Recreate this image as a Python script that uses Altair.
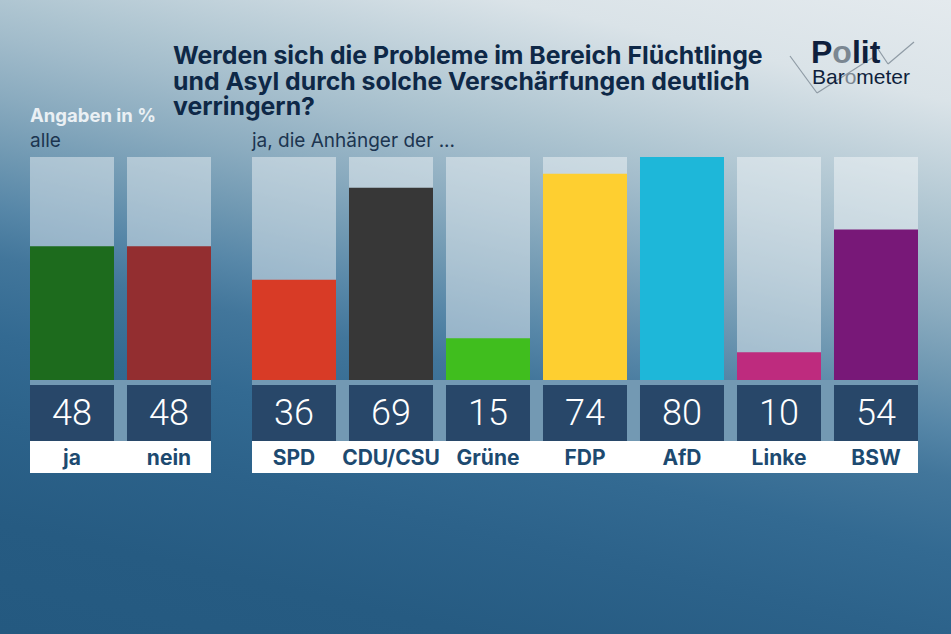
import altair as alt
import pandas as pd

# ---- data ----
all_cats = ["ja", "nein"]
all_vals = [48, 48]
party_cats = ["SPD", "CDU/CSU", "Grüne", "FDP", "AfD", "Linke", "BSW"]
party_vals = [36, 69, 15, 74, 80, 10, 54]
all_colors = ["#1d6b1d", "#932e30"]
party_colors = ["#d83b26", "#373737", "#40be1e", "#fecf30", "#1eb7d9", "#be2b7e", "#781878"]

title_lines = [
    "Werden sich die Probleme im Bereich Flüchtlinge",
    "und Asyl durch solche Verschärfungen deutlich",
    "verringern?",
]
unit_label = "Angaben in %"
left_head = "alle"
right_head = "ja, die Anhänger der ..."

W, H = 951, 634
ymax = max(all_vals + party_vals)
one = pd.DataFrame({"a": [0]})

yscale = alt.Scale(domain=[0, ymax], range=[380, 157], nice=False)
cscale = alt.Scale(domain=all_cats + party_cats, range=all_colors + party_colors)

# ---- background ----
stops = [
    (0.0, "#e4eaee"), (0.12, "#dae3e8"), (0.26, "#aec5d1"), (0.30, "#a2bccb"),
    (0.37, "#8aabbf"), (0.44, "#6f98b2"), (0.50, "#5787a8"), (0.56, "#42769b"),
    (0.65, "#336a92"), (0.75, "#2c628a"), (0.87, "#265b82"), (1.0, "#245980"),
]
grad = alt.LinearGradient(
    gradient="linear", x1=1, y1=0, x2=0.584, y2=1.202,
    stops=[alt.GradientStop(offset=o, color=c) for o, c in stops],
)
bg = alt.Chart(one).mark_rect(color=grad).encode(
    x=alt.value(0), x2=alt.value(W), y=alt.value(0), y2=alt.value(H)
)


def group(cats, vals, x0, x1):
    df = pd.DataFrame({"cat": cats, "val": vals, "full": [ymax] * len(cats)})
    xs = alt.X("cat:N", sort=cats, axis=None,
               scale=alt.Scale(domain=cats, range=[x0, x1], paddingInner=0.134, paddingOuter=0))
    base = alt.Chart(df)
    strip = alt.Chart(one).mark_rect(color="#7399b3").encode(
        x=alt.value(x0), x2=alt.value(x1), y=alt.value(380), y2=alt.value(441))
    track = base.mark_bar(color="white", opacity=0.42).encode(
        x=xs, y=alt.Y("full:Q", scale=yscale, axis=None))
    bars = base.mark_bar().encode(
        x=xs, y=alt.Y("val:Q", scale=yscale, axis=None),
        color=alt.Color("cat:N", scale=cscale, legend=None))
    box = base.mark_rect(color="#284769").encode(x=xs, y=alt.value(385), y2=alt.value(441))
    num = base.mark_text(font="Roboto", fontWeight=300, fontSize=36, color="white",
                         baseline="middle").encode(x=xs, y=alt.value(414), text="val:Q")
    labbox = alt.Chart(one).mark_rect(color="white").encode(
        x=alt.value(x0), x2=alt.value(x1), y=alt.value(441), y2=alt.value(473))
    lab = base.mark_text(font="Inter", fontWeight="bold", fontSize=21, color="#1d4a70",
                         baseline="middle").encode(x=xs, y=alt.value(459), text="cat:N")
    return alt.layer(strip, track, bars, box, num, labbox, lab)


left = group(all_cats, all_vals, 30, 211)
right = group(party_cats, party_vals, 252, 918)


def txt(s, x, y, **kw):
    return alt.Chart(one).mark_text(align="left", baseline="alphabetic", **kw).encode(
        x=alt.value(x), y=alt.value(y), text=alt.value(s))


title = txt(title_lines, 173, 64, font="Inter", fontWeight="bold", fontSize=24.8,
            color="#0e2847", lineHeight=25.5)
unit = txt(unit_label, 30, 122, font="Inter", fontWeight="bold", fontSize=18.5, color="#eaf0f4")
lh = txt(left_head, 30, 147, font="Inter", fontSize=19, color="#1c3550")
rh = txt(right_head, 252, 147, font="Inter", fontSize=19, color="#1c3550")

# ---- logo ----
lc = "#8f9ba5"


def seg(xa, ya, xb, yb):
    return alt.Chart(one).mark_rule(color=lc, strokeWidth=1.2).encode(
        x=alt.value(xa), y=alt.value(ya), x2=alt.value(xb), y2=alt.value(yb))


logo_lines = [seg(790, 56, 817, 93), seg(817, 93, 872, 58), seg(876, 46, 888, 64), seg(888, 64, 914, 42)]
dark = "#0f1f3c"
gray = "#7b8792"
lf = "Liberation Sans"
p1 = txt("P", 811, 63, font=lf, fontWeight="bold", fontSize=32, color=dark)
p2 = txt("o", 811 + 0.667 * 32, 63, font=lf, fontWeight="bold", fontSize=32, color=gray)
p3 = txt("lit", 811 + (0.667 + 0.611) * 32, 63, font=lf, fontWeight="bold", fontSize=32, color=dark)
b1 = txt("Bar", 812, 84, font=lf, fontSize=21, color=dark)
b2 = txt("o", 812 + 1.556 * 21, 84, font=lf, fontSize=21, color=gray)
b3 = txt("meter", 812 + 2.112 * 21, 84, font=lf, fontSize=21, color=dark)

chart = alt.layer(
    bg, left, right, title, unit, lh, rh, *logo_lines, p1, p2, p3, b1, b2, b3
).resolve_scale(x="independent").properties(
    width=W, height=H, padding=0, autosize=alt.AutoSizeParams(type="none"),
    background="#2a5f86",
).configure_view(strokeWidth=0)

chart.save("out.html", embed_options={"renderer": "svg", "actions": False})
